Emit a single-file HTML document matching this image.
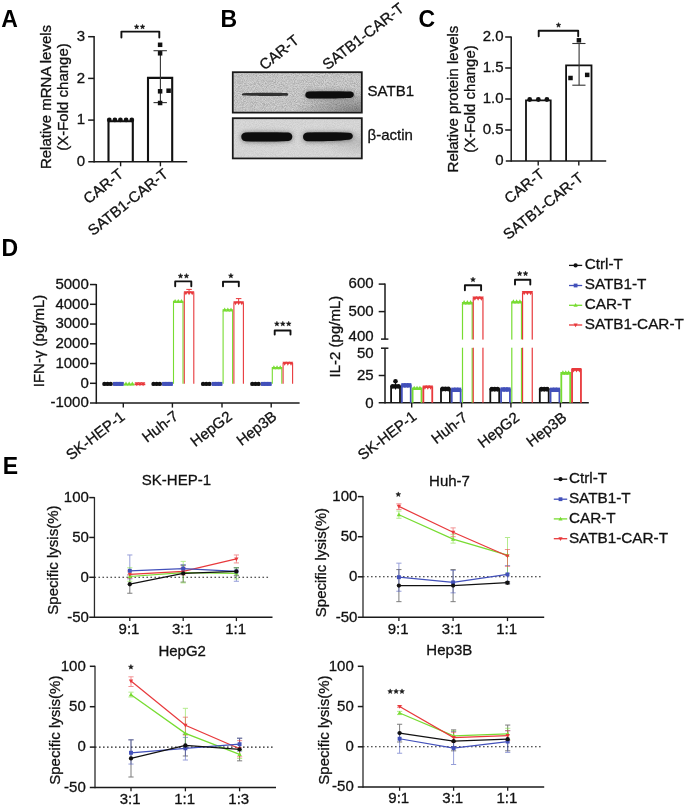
<!DOCTYPE html><html><head><meta charset="utf-8"><title>Figure</title>
<style>html,body{margin:0;padding:0;background:#fff;width:685px;height:805px;overflow:hidden}svg{display:block;font-family:"Liberation Sans",sans-serif;will-change:transform}</style></head><body>
<svg width="685" height="805" viewBox="0 0 685 805">
<defs><linearGradient id="g1" x1="0" y1="0" x2="1" y2="1"><stop offset="0" stop-color="#d4d4d4"/><stop offset="0.45" stop-color="#d8d8d8"/><stop offset="0.8" stop-color="#cfcfcf"/><stop offset="1" stop-color="#a9a9a9"/></linearGradient><linearGradient id="g2" x1="0" y1="0" x2="1" y2="1"><stop offset="0" stop-color="#d9d9d9"/><stop offset="0.6" stop-color="#dcdcdc"/><stop offset="1" stop-color="#d0d0d0"/></linearGradient><filter id="bl1" x="-20%" y="-100%" width="140%" height="300%"><feGaussianBlur stdDeviation="0.9"/></filter><filter id="bl2" x="-20%" y="-100%" width="140%" height="300%"><feGaussianBlur stdDeviation="0.6"/></filter></defs>
<rect x="0" y="0" width="685" height="805" fill="#fff"/>
<text x="1.2" y="26.8" font-size="23" text-anchor="start" font-weight="bold" fill="#000" >A</text>
<text x="220.6" y="26.8" font-size="23" text-anchor="start" font-weight="bold" fill="#000" >B</text>
<text x="418.6" y="26.8" font-size="23" text-anchor="start" font-weight="bold" fill="#000" >C</text>
<text x="1.6" y="256.1" font-size="23" text-anchor="start" font-weight="bold" fill="#000" >D</text>
<text x="2.8" y="473.9" font-size="23" text-anchor="start" font-weight="bold" fill="#000" >E</text>
<line x1="94.1" y1="36" x2="94.1" y2="162.5" stroke="#1a1a1a" stroke-width="1.5" />
<text x="85" y="166.17" font-size="15.0" text-anchor="end" fill="#111" stroke="#111" stroke-width="0.3" >0</text>
<line x1="88.1" y1="120.1" x2="94.1" y2="120.1" stroke="#1a1a1a" stroke-width="1.5" />
<text x="85" y="124.47" font-size="15.0" text-anchor="end" fill="#111" stroke="#111" stroke-width="0.3" >1</text>
<line x1="88.1" y1="78.4" x2="94.1" y2="78.4" stroke="#1a1a1a" stroke-width="1.5" />
<text x="85" y="82.77" font-size="15.0" text-anchor="end" fill="#111" stroke="#111" stroke-width="0.3" >2</text>
<line x1="88.1" y1="36.7" x2="94.1" y2="36.7" stroke="#1a1a1a" stroke-width="1.5" />
<text x="85" y="41.07" font-size="15.0" text-anchor="end" fill="#111" stroke="#111" stroke-width="0.3" >3</text>
<line x1="88.3" y1="161.8" x2="187.2" y2="161.8" stroke="#1a1a1a" stroke-width="1.5" />
<line x1="120.6" y1="161.8" x2="120.6" y2="166.3" stroke="#1a1a1a" stroke-width="1.4" />
<line x1="160.4" y1="161.8" x2="160.4" y2="166.3" stroke="#1a1a1a" stroke-width="1.4" />
<text x="50.6" y="97" font-size="15.0" text-anchor="middle" fill="#111" stroke="#111" stroke-width="0.3" transform="rotate(-90 50.6 97)" >Relative mRNA levels</text>
<text x="67.6" y="97" font-size="15.0" text-anchor="middle" fill="#111" stroke="#111" stroke-width="0.3" transform="rotate(-90 67.6 97)" >(X-Fold change)</text>
<polyline points="108.5,161.8 108.5,121.3 132.8,121.3 132.8,161.8" stroke="#111" stroke-width="2.1" fill="none" />
<polyline points="148,161.8 148,77.9 172.2,77.9 172.2,161.8" stroke="#111" stroke-width="2.1" fill="none" />
<line x1="160.4" y1="50.7" x2="160.4" y2="102.6" stroke="#333" stroke-width="1.1" />
<line x1="153.5" y1="50.7" x2="166.9" y2="50.7" stroke="#333" stroke-width="1.1" />
<line x1="153.5" y1="102.6" x2="166.9" y2="102.6" stroke="#333" stroke-width="1.1" />
<circle cx="109.3" cy="119.9" r="2.4" fill="#111"/>
<circle cx="114.9" cy="119.9" r="2.4" fill="#111"/>
<circle cx="120.4" cy="119.9" r="2.4" fill="#111"/>
<circle cx="126.1" cy="119.9" r="2.4" fill="#111"/>
<circle cx="131.8" cy="119.9" r="2.4" fill="#111"/>
<rect x="157.85" y="42.55" width="4.5" height="4.5" fill="#111"/>
<rect x="157.85" y="51.05" width="4.5" height="4.5" fill="#111"/>
<rect x="157.85" y="89.05" width="4.5" height="4.5" fill="#111"/>
<rect x="166.35" y="88.45" width="4.5" height="4.5" fill="#111"/>
<rect x="157.85" y="100.75" width="4.5" height="4.5" fill="#111"/>
<polyline points="121.4,37.6 121.4,31.6 159.3,31.6 159.3,37.6" stroke="#111" stroke-width="1.9" fill="none" stroke-linejoin="round" stroke-linecap="round"/>
<polygon points="136.65,24.3 137.3,25.96 139.08,26.06 137.7,27.19 138.15,28.91 136.65,27.95 135.15,28.91 135.6,27.19 134.22,26.06 136,25.96" fill="#1a1a1a" stroke="#1a1a1a" stroke-width="0.5" stroke-linejoin="round"/>
<polygon points="142.55,24.3 143.2,25.96 144.98,26.06 143.6,27.19 144.05,28.91 142.55,27.95 141.05,28.91 141.5,27.19 140.12,26.06 141.9,25.96" fill="#1a1a1a" stroke="#1a1a1a" stroke-width="0.5" stroke-linejoin="round"/>
<text x="124.3" y="175.9" font-size="15" text-anchor="end" fill="#111" stroke="#111" stroke-width="0.3" transform="rotate(-38.6 124.3 175.9)" >CAR-T</text>
<text x="169.1" y="175.7" font-size="15" text-anchor="end" fill="#111" stroke="#111" stroke-width="0.3" transform="rotate(-38.6 169.1 175.7)" >SATB1-CAR-T</text>
<line x1="511.2" y1="36.4" x2="511.2" y2="161.7" stroke="#1a1a1a" stroke-width="1.5" />
<text x="503.6" y="165.37" font-size="15.0" text-anchor="end" fill="#111" stroke="#111" stroke-width="0.3" >0</text>
<line x1="505.2" y1="130" x2="511.2" y2="130" stroke="#1a1a1a" stroke-width="1.5" />
<text x="503.6" y="134.37" font-size="15.0" text-anchor="end" fill="#111" stroke="#111" stroke-width="0.3" >0.5</text>
<line x1="505.2" y1="99" x2="511.2" y2="99" stroke="#1a1a1a" stroke-width="1.5" />
<text x="503.6" y="103.37" font-size="15.0" text-anchor="end" fill="#111" stroke="#111" stroke-width="0.3" >1.0</text>
<line x1="505.2" y1="68" x2="511.2" y2="68" stroke="#1a1a1a" stroke-width="1.5" />
<text x="503.6" y="72.37" font-size="15.0" text-anchor="end" fill="#111" stroke="#111" stroke-width="0.3" >1.5</text>
<line x1="505.2" y1="37" x2="511.2" y2="37" stroke="#1a1a1a" stroke-width="1.5" />
<text x="503.6" y="41.37" font-size="15.0" text-anchor="end" fill="#111" stroke="#111" stroke-width="0.3" >2.0</text>
<line x1="505.8" y1="161" x2="606.2" y2="161" stroke="#1a1a1a" stroke-width="1.5" />
<line x1="538.2" y1="161" x2="538.2" y2="165.5" stroke="#1a1a1a" stroke-width="1.4" />
<line x1="578.8" y1="161" x2="578.8" y2="165.5" stroke="#1a1a1a" stroke-width="1.4" />
<text x="457.6" y="99" font-size="15.0" text-anchor="middle" fill="#111" stroke="#111" stroke-width="0.3" transform="rotate(-90 457.6 99)" >Relative protein levels</text>
<text x="474.6" y="99" font-size="15.0" text-anchor="middle" fill="#111" stroke="#111" stroke-width="0.3" transform="rotate(-90 474.6 99)" >(X-Fold change)</text>
<polyline points="526,161 526,100.4 550.7,100.4 550.7,161" stroke="#111" stroke-width="1.8" fill="none" />
<polyline points="566.1,161 566.1,65.4 591.5,65.4 591.5,161" stroke="#111" stroke-width="1.8" fill="none" />
<line x1="579.1" y1="43.5" x2="579.1" y2="85.2" stroke="#333" stroke-width="1.1" />
<line x1="572.3" y1="43.5" x2="585.5" y2="43.5" stroke="#333" stroke-width="1.1" />
<line x1="572.3" y1="85.2" x2="585.5" y2="85.2" stroke="#333" stroke-width="1.1" />
<circle cx="529.7" cy="99.5" r="2.4" fill="#111"/>
<circle cx="538.3" cy="99.5" r="2.4" fill="#111"/>
<circle cx="546.9" cy="99.5" r="2.4" fill="#111"/>
<rect x="576.65" y="38.05" width="4.5" height="4.5" fill="#111"/>
<rect x="568.25" y="75.75" width="4.5" height="4.5" fill="#111"/>
<rect x="584.95" y="72.65" width="4.5" height="4.5" fill="#111"/>
<polyline points="538.7,36.2 538.7,30.7 578.2,30.7 578.2,36.2" stroke="#111" stroke-width="1.9" fill="none" stroke-linejoin="round" stroke-linecap="round"/>
<polygon points="558.5,22.6 559.15,24.26 560.93,24.36 559.55,25.49 560,27.21 558.5,26.25 557,27.21 557.45,25.49 556.07,24.36 557.85,24.26" fill="#1a1a1a" stroke="#1a1a1a" stroke-width="0.5" stroke-linejoin="round"/>
<text x="545.3" y="175.7" font-size="15" text-anchor="end" fill="#111" stroke="#111" stroke-width="0.3" transform="rotate(-38.6 545.3 175.7)" >CAR-T</text>
<text x="584.3" y="179.6" font-size="15" text-anchor="end" fill="#111" stroke="#111" stroke-width="0.3" transform="rotate(-38.6 584.3 179.6)" >SATB1-CAR-T</text>
<defs><radialGradient id="rg1" cx="1" cy="1" r="0.55" fx="1" fy="1"><stop offset="0" stop-color="#000" stop-opacity="0.38"/><stop offset="1" stop-color="#000" stop-opacity="0"/></radialGradient><radialGradient id="rg2" cx="1" cy="0.6" r="0.35"><stop offset="0" stop-color="#000" stop-opacity="0.12"/><stop offset="1" stop-color="#000" stop-opacity="0"/></radialGradient><filter id="nz" x="0" y="0" width="100%" height="100%"><feTurbulence type="fractalNoise" baseFrequency="1.1" numOctaves="2" seed="7"/><feColorMatrix type="matrix" values="0 0 0 0 0  0 0 0 0 0  0 0 0 0 0  0.42 0 0 0 -0.13"/></filter><filter id="halo" x="-30%" y="-200%" width="160%" height="500%"><feGaussianBlur stdDeviation="2.6"/></filter><filter id="bb" x="-20%" y="-100%" width="140%" height="300%"><feGaussianBlur stdDeviation="0.65"/></filter><filter id="bb2" x="-20%" y="-200%" width="140%" height="500%"><feGaussianBlur stdDeviation="0.7 0.55"/></filter><clipPath id="cb1"><rect x="233.7" y="73.1" width="127.2" height="38.6"/></clipPath><clipPath id="cb2"><rect x="233.7" y="119.1" width="127.2" height="38.4"/></clipPath></defs>
<g clip-path="url(#cb1)">
<rect x="232.8" y="72.2" width="129" height="40.4" fill="#d3d3d3"/>
<rect x="232.8" y="72.2" width="129" height="40.4" fill="url(#rg1)"/>
<rect x="232.8" y="72.2" width="129" height="40.4" fill="#000" filter="url(#nz)"/>
<path d="M243.2,93.3 C250,93.0 256,92.9 264,92.8 C273,92.7 281,92.8 286.5,93.0 C288.7,93.3 288.7,95.5 286.5,95.8 C281,96.0 273,96.1 264,96.0 C256,95.9 250,95.8 243.2,95.6 C241.6,95.4 241.6,93.5 243.2,93.3 Z" fill="#202020" opacity="0.9" filter="url(#bb2)"/>
<path d="M309,91.5 C325,91.2 340,91.3 350.4,91.6 C355.0,91.9 355.0,97.6 350.4,97.9 C340,98.3 325,98.5 309,98.4 C304.0,98.3 304.0,91.6 309,91.5 Z" fill="#555" opacity="0.55" filter="url(#halo)"/>
<path d="M309,91.5 C325,91.2 340,91.3 350.4,91.6 C355.0,91.9 355.0,97.6 350.4,97.9 C340,98.3 325,98.5 309,98.4 C304.0,98.3 304.0,91.6 309,91.5 Z" fill="#0b0b0b" filter="url(#bb)"/>
</g>
<rect x="232.8" y="72.2" width="129" height="40.4" fill="none" stroke="#1a1a1a" stroke-width="1.8"/>
<g clip-path="url(#cb2)">
<rect x="232.8" y="118.2" width="129" height="40.2" fill="#dadada"/>
<rect x="232.8" y="118.2" width="129" height="40.2" fill="url(#rg2)"/>
<rect x="232.8" y="118.2" width="129" height="40.2" fill="#000" filter="url(#nz)" opacity="0.35"/>
<path d="M245.5,132.4 C258,132.1 276,132.1 288.4,132.5 C293.6,132.9 293.6,140.5 288.4,140.9 C276,141.7 258,141.8 245.5,141.3 C239.8,141.0 239.8,132.6 245.5,132.4 Z" fill="#444" opacity="0.75" filter="url(#halo)" transform="translate(0,0.3)"/>
<path d="M307.2,132.5 C322,132.2 338,132.4 348.8,132.7 C354.2,133.0 354.2,139.0 348.8,139.8 C338,141.0 322,141.5 307.2,141.3 C301.6,141.1 301.6,132.7 307.2,132.5 Z" fill="#444" opacity="0.75" filter="url(#halo)" transform="translate(0,0.3)"/>
<path d="M245.5,132.4 C258,132.1 276,132.1 288.4,132.5 C293.6,132.9 293.6,140.5 288.4,140.9 C276,141.7 258,141.8 245.5,141.3 C239.8,141.0 239.8,132.6 245.5,132.4 Z" fill="#0b0b0b" filter="url(#bb)"/>
<path d="M307.2,132.5 C322,132.2 338,132.4 348.8,132.7 C354.2,133.0 354.2,139.0 348.8,139.8 C338,141.0 322,141.5 307.2,141.3 C301.6,141.1 301.6,132.7 307.2,132.5 Z" fill="#0b0b0b" filter="url(#bb)"/>
</g>
<rect x="232.8" y="118.2" width="129" height="40.2" fill="none" stroke="#1a1a1a" stroke-width="1.8"/>
<text x="367.6" y="95.8" font-size="15" text-anchor="start" fill="#111" stroke="#111" stroke-width="0.3" >SATB1</text>
<text x="367.6" y="139.6" font-size="15" text-anchor="start" fill="#111" stroke="#111" stroke-width="0.3" >&#946;-actin</text>
<text x="300.1" y="42" font-size="15" text-anchor="end" fill="#111" stroke="#111" stroke-width="0.3" transform="rotate(-39 300.1 42)" >CAR-T</text>
<text x="405.2" y="10.2" font-size="15.2" text-anchor="end" fill="#111" stroke="#111" stroke-width="0.3" transform="rotate(-37.8 405.2 10.2)" >SATB1-CAR-T</text>
<line x1="96.3" y1="284" x2="96.3" y2="403.7" stroke="#1a1a1a" stroke-width="1.5" />
<line x1="90" y1="284.55" x2="96.3" y2="284.55" stroke="#1a1a1a" stroke-width="1.5" />
<text x="88.8" y="288.92" font-size="15.0" text-anchor="end" fill="#111" stroke="#111" stroke-width="0.3" >5000</text>
<line x1="90" y1="304.3" x2="96.3" y2="304.3" stroke="#1a1a1a" stroke-width="1.5" />
<text x="88.8" y="308.67" font-size="15.0" text-anchor="end" fill="#111" stroke="#111" stroke-width="0.3" >4000</text>
<line x1="90" y1="324.05" x2="96.3" y2="324.05" stroke="#1a1a1a" stroke-width="1.5" />
<text x="88.8" y="328.42" font-size="15.0" text-anchor="end" fill="#111" stroke="#111" stroke-width="0.3" >3000</text>
<line x1="90" y1="343.8" x2="96.3" y2="343.8" stroke="#1a1a1a" stroke-width="1.5" />
<text x="88.8" y="348.17" font-size="15.0" text-anchor="end" fill="#111" stroke="#111" stroke-width="0.3" >2000</text>
<line x1="90" y1="363.55" x2="96.3" y2="363.55" stroke="#1a1a1a" stroke-width="1.5" />
<text x="88.8" y="367.92" font-size="15.0" text-anchor="end" fill="#111" stroke="#111" stroke-width="0.3" >1000</text>
<line x1="90" y1="383.3" x2="96.3" y2="383.3" stroke="#1a1a1a" stroke-width="1.5" />
<text x="88.8" y="387.67" font-size="15.0" text-anchor="end" fill="#111" stroke="#111" stroke-width="0.3" >0</text>
<text x="88.8" y="407.42" font-size="15.0" text-anchor="end" fill="#111" stroke="#111" stroke-width="0.3" >-1000</text>
<line x1="90" y1="403" x2="299.6" y2="403" stroke="#1a1a1a" stroke-width="1.5" />
<line x1="123.3" y1="403" x2="123.3" y2="407.6" stroke="#1a1a1a" stroke-width="1.4" />
<line x1="172.4" y1="403" x2="172.4" y2="407.6" stroke="#1a1a1a" stroke-width="1.4" />
<line x1="222" y1="403" x2="222" y2="407.6" stroke="#1a1a1a" stroke-width="1.4" />
<line x1="271.2" y1="403" x2="271.2" y2="407.6" stroke="#1a1a1a" stroke-width="1.4" />
<text x="44" y="341" font-size="15.0" text-anchor="middle" fill="#111" stroke="#111" stroke-width="0.3" transform="rotate(-90 44 341)" >IFN-&#947; (pg/mL)</text>
<circle cx="104.4" cy="383.9" r="2.2" fill="#111"/>
<circle cx="107.55" cy="383.9" r="2.2" fill="#111"/>
<circle cx="110.7" cy="383.9" r="2.2" fill="#111"/>
<rect x="113" y="382.1" width="10.7" height="3.4" fill="#4250BA"/>
<rect x="113.2" y="381.9" width="4" height="4" fill="#4250BA"/>
<rect x="116.35" y="381.9" width="4" height="4" fill="#4250BA"/>
<rect x="119.5" y="381.9" width="4" height="4" fill="#4250BA"/>
<rect x="123.8" y="383.6" width="10.7" height="1.6" fill="#78DC32"/>
<polygon points="126,381.52 123.8,385.48 128.2,385.48" fill="#78DC32"/>
<polygon points="129.15,381.52 126.95,385.48 131.35,385.48" fill="#78DC32"/>
<polygon points="132.3,381.52 130.1,385.48 134.5,385.48" fill="#78DC32"/>
<rect x="134.6" y="383.6" width="10.7" height="1.6" fill="#E8393C"/>
<polygon points="136.8,386.28 134.6,382.32 139,382.32" fill="#E8393C"/>
<polygon points="139.95,386.28 137.75,382.32 142.15,382.32" fill="#E8393C"/>
<polygon points="143.1,386.28 140.9,382.32 145.3,382.32" fill="#E8393C"/>
<circle cx="153.5" cy="383.9" r="2.2" fill="#111"/>
<circle cx="156.65" cy="383.9" r="2.2" fill="#111"/>
<circle cx="159.8" cy="383.9" r="2.2" fill="#111"/>
<rect x="162.1" y="382.1" width="10.7" height="3.4" fill="#4250BA"/>
<rect x="162.3" y="381.9" width="4" height="4" fill="#4250BA"/>
<rect x="165.45" y="381.9" width="4" height="4" fill="#4250BA"/>
<rect x="168.6" y="381.9" width="4" height="4" fill="#4250BA"/>
<polyline points="173.5,383.8 173.5,301.31 183,301.31 183,383.8" stroke="#78DC32" stroke-width="1.1" fill="none" />
<polygon points="175.1,298.93 172.9,302.89 177.3,302.89" fill="#78DC32"/>
<polygon points="178.25,298.93 176.05,302.89 180.45,302.89" fill="#78DC32"/>
<polygon points="181.4,298.93 179.2,302.89 183.6,302.89" fill="#78DC32"/>
<polyline points="184.3,383.8 184.3,292.81 193.8,292.81 193.8,383.8" stroke="#E8393C" stroke-width="1.1" fill="none" />
<polygon points="185.9,295.19 183.7,291.23 188.1,291.23" fill="#E8393C"/>
<polygon points="189.05,295.19 186.85,291.23 191.25,291.23" fill="#E8393C"/>
<polygon points="192.2,295.19 190,291.23 194.4,291.23" fill="#E8393C"/>
<circle cx="203.1" cy="383.9" r="2.2" fill="#111"/>
<circle cx="206.25" cy="383.9" r="2.2" fill="#111"/>
<circle cx="209.4" cy="383.9" r="2.2" fill="#111"/>
<rect x="211.7" y="382.1" width="10.7" height="3.4" fill="#4250BA"/>
<rect x="211.9" y="381.9" width="4" height="4" fill="#4250BA"/>
<rect x="215.05" y="381.9" width="4" height="4" fill="#4250BA"/>
<rect x="218.2" y="381.9" width="4" height="4" fill="#4250BA"/>
<polyline points="223.1,383.8 223.1,309.8 232.6,309.8 232.6,383.8" stroke="#78DC32" stroke-width="1.1" fill="none" />
<polygon points="224.7,307.42 222.5,311.38 226.9,311.38" fill="#78DC32"/>
<polygon points="227.85,307.42 225.65,311.38 230.05,311.38" fill="#78DC32"/>
<polygon points="231,307.42 228.8,311.38 233.2,311.38" fill="#78DC32"/>
<polyline points="233.9,383.8 233.9,302.81 243.4,302.81 243.4,383.8" stroke="#E8393C" stroke-width="1.1" fill="none" />
<polygon points="235.5,305.18 233.3,301.22 237.7,301.22" fill="#E8393C"/>
<polygon points="238.65,305.18 236.45,301.22 240.85,301.22" fill="#E8393C"/>
<polygon points="241.8,305.18 239.6,301.22 244,301.22" fill="#E8393C"/>
<circle cx="252.3" cy="383.9" r="2.2" fill="#111"/>
<circle cx="255.45" cy="383.9" r="2.2" fill="#111"/>
<circle cx="258.6" cy="383.9" r="2.2" fill="#111"/>
<rect x="260.9" y="382.1" width="10.7" height="3.4" fill="#4250BA"/>
<rect x="261.1" y="381.9" width="4" height="4" fill="#4250BA"/>
<rect x="264.25" y="381.9" width="4" height="4" fill="#4250BA"/>
<rect x="267.4" y="381.9" width="4" height="4" fill="#4250BA"/>
<polyline points="272.3,383.8 272.3,367.61 281.8,367.61 281.8,383.8" stroke="#78DC32" stroke-width="1.1" fill="none" />
<polygon points="273.9,365.23 271.7,369.19 276.1,369.19" fill="#78DC32"/>
<polygon points="277.05,365.23 274.85,369.19 279.25,369.19" fill="#78DC32"/>
<polygon points="280.2,365.23 278,369.19 282.4,369.19" fill="#78DC32"/>
<polyline points="283.1,383.8 283.1,363.26 292.6,363.26 292.6,383.8" stroke="#E8393C" stroke-width="1.1" fill="none" />
<polygon points="284.7,365.64 282.5,361.68 286.9,361.68" fill="#E8393C"/>
<polygon points="287.85,365.64 285.65,361.68 290.05,361.68" fill="#E8393C"/>
<polygon points="291,365.64 288.8,361.68 293.2,361.68" fill="#E8393C"/>
<line x1="189.05" y1="289.4" x2="189.05" y2="292.9" stroke="#E8393C" stroke-width="1" />
<line x1="186.3" y1="289.4" x2="191.8" y2="289.4" stroke="#E8393C" stroke-width="1" />
<line x1="238.65" y1="298.6" x2="238.65" y2="302.1" stroke="#E8393C" stroke-width="1" />
<line x1="235.9" y1="298.6" x2="241.4" y2="298.6" stroke="#E8393C" stroke-width="1" />
<polyline points="175.2,286.3 175.2,281.4 191.3,281.4 191.3,286.3" stroke="#111" stroke-width="1.9" fill="none" stroke-linejoin="round" stroke-linecap="round"/>
<polygon points="180.55,273.5 181.2,275.16 182.98,275.26 181.6,276.39 182.05,278.11 180.55,277.15 179.05,278.11 179.5,276.39 178.12,275.26 179.9,275.16" fill="#1a1a1a" stroke="#1a1a1a" stroke-width="0.5" stroke-linejoin="round"/>
<polygon points="186.45,273.5 187.1,275.16 188.88,275.26 187.5,276.39 187.95,278.11 186.45,277.15 184.95,278.11 185.4,276.39 184.02,275.26 185.8,275.16" fill="#1a1a1a" stroke="#1a1a1a" stroke-width="0.5" stroke-linejoin="round"/>
<polyline points="223,286.3 223,281.8 238.8,281.8 238.8,286.3" stroke="#111" stroke-width="1.9" fill="none" stroke-linejoin="round" stroke-linecap="round"/>
<polygon points="230.9,273.3 231.55,274.96 233.33,275.06 231.95,276.19 232.4,277.91 230.9,276.95 229.4,277.91 229.85,276.19 228.47,275.06 230.25,274.96" fill="#1a1a1a" stroke="#1a1a1a" stroke-width="0.5" stroke-linejoin="round"/>
<polyline points="274.7,334.6 274.7,330.5 290.5,330.5 290.5,334.6" stroke="#111" stroke-width="1.9" fill="none" stroke-linejoin="round" stroke-linecap="round"/>
<polygon points="276.9,321.3 277.55,322.96 279.33,323.06 277.95,324.19 278.4,325.91 276.9,324.95 275.4,325.91 275.85,324.19 274.47,323.06 276.25,322.96" fill="#1a1a1a" stroke="#1a1a1a" stroke-width="0.5" stroke-linejoin="round"/>
<polygon points="282.8,321.3 283.45,322.96 285.23,323.06 283.85,324.19 284.3,325.91 282.8,324.95 281.3,325.91 281.75,324.19 280.37,323.06 282.15,322.96" fill="#1a1a1a" stroke="#1a1a1a" stroke-width="0.5" stroke-linejoin="round"/>
<polygon points="288.7,321.3 289.35,322.96 291.13,323.06 289.75,324.19 290.2,325.91 288.7,324.95 287.2,325.91 287.65,324.19 286.27,323.06 288.05,322.96" fill="#1a1a1a" stroke="#1a1a1a" stroke-width="0.5" stroke-linejoin="round"/>
<text x="125.8" y="418.7" font-size="15.0" text-anchor="end" fill="#111" stroke="#111" stroke-width="0.3" transform="rotate(-37.5 125.8 418.7)" >SK-HEP-1</text>
<text x="179.4" y="418.1" font-size="15.0" text-anchor="end" fill="#111" stroke="#111" stroke-width="0.3" transform="rotate(-37.5 179.4 418.1)" >Huh-7</text>
<text x="233" y="418.3" font-size="15.0" text-anchor="end" fill="#111" stroke="#111" stroke-width="0.3" transform="rotate(-37.5 233 418.3)" >HepG2</text>
<text x="277.8" y="418.3" font-size="15.0" text-anchor="end" fill="#111" stroke="#111" stroke-width="0.3" transform="rotate(-37.5 277.8 418.3)" >Hep3B</text>
<line x1="385" y1="283.5" x2="385" y2="339.1" stroke="#1a1a1a" stroke-width="1.5" />
<line x1="385" y1="348.2" x2="385" y2="403.5" stroke="#1a1a1a" stroke-width="1.5" />
<line x1="381" y1="339.1" x2="388.4" y2="339.1" stroke="#1a1a1a" stroke-width="1.5" />
<line x1="381" y1="348.2" x2="388.4" y2="348.2" stroke="#1a1a1a" stroke-width="1.5" />
<line x1="378.7" y1="284.1" x2="385" y2="284.1" stroke="#1a1a1a" stroke-width="1.5" />
<line x1="378.7" y1="311.6" x2="385" y2="311.6" stroke="#1a1a1a" stroke-width="1.5" />
<line x1="378.7" y1="375.5" x2="385" y2="375.5" stroke="#1a1a1a" stroke-width="1.5" />
<text x="373.6" y="288.17" font-size="15.0" text-anchor="end" fill="#111" stroke="#111" stroke-width="0.3" >600</text>
<text x="373.6" y="316.37" font-size="15.0" text-anchor="end" fill="#111" stroke="#111" stroke-width="0.3" >500</text>
<text x="373.6" y="340.97" font-size="15.0" text-anchor="end" fill="#111" stroke="#111" stroke-width="0.3" >400</text>
<text x="373.6" y="357.77" font-size="15.0" text-anchor="end" fill="#111" stroke="#111" stroke-width="0.3" >50</text>
<text x="373.6" y="379.77" font-size="15.0" text-anchor="end" fill="#111" stroke="#111" stroke-width="0.3" >25</text>
<text x="373.6" y="407.57" font-size="15.0" text-anchor="end" fill="#111" stroke="#111" stroke-width="0.3" >0</text>
<line x1="378.7" y1="402.8" x2="588.8" y2="402.8" stroke="#1a1a1a" stroke-width="1.5" />
<line x1="411.7" y1="402.8" x2="411.7" y2="407.4" stroke="#1a1a1a" stroke-width="1.4" />
<line x1="461.6" y1="402.8" x2="461.6" y2="407.4" stroke="#1a1a1a" stroke-width="1.4" />
<line x1="510.9" y1="402.8" x2="510.9" y2="407.4" stroke="#1a1a1a" stroke-width="1.4" />
<line x1="560.4" y1="402.8" x2="560.4" y2="407.4" stroke="#1a1a1a" stroke-width="1.4" />
<text x="340.2" y="336.6" font-size="15.0" text-anchor="middle" fill="#111" stroke="#111" stroke-width="0.3" transform="rotate(-90 340.2 336.6)" >IL-2 (pg/mL)</text>
<polyline points="391.1,402.8 391.1,386.42 400,386.42 400,402.8" stroke="#111" stroke-width="1.8" fill="none" />
<circle cx="392.7" cy="386.42" r="2.42" fill="#111"/>
<circle cx="395.55" cy="386.42" r="2.42" fill="#111"/>
<circle cx="398.4" cy="386.42" r="2.42" fill="#111"/>
<polyline points="401.85,402.8 401.85,385.33 410.75,385.33 410.75,402.8" stroke="#4250BA" stroke-width="1.8" fill="none" />
<rect x="401.25" y="383.13" width="4.4" height="4.4" fill="#4250BA"/>
<rect x="404.1" y="383.13" width="4.4" height="4.4" fill="#4250BA"/>
<rect x="406.95" y="383.13" width="4.4" height="4.4" fill="#4250BA"/>
<polyline points="412.6,402.8 412.6,388.28 421.5,388.28 421.5,402.8" stroke="#78DC32" stroke-width="1.8" fill="none" />
<polygon points="414.2,385.66 411.78,390.02 416.62,390.02" fill="#78DC32"/>
<polygon points="417.05,385.66 414.63,390.02 419.47,390.02" fill="#78DC32"/>
<polygon points="419.9,385.66 417.48,390.02 422.32,390.02" fill="#78DC32"/>
<polyline points="423.35,402.8 423.35,387.18 432.25,387.18 432.25,402.8" stroke="#E8393C" stroke-width="1.8" fill="none" />
<polygon points="424.95,389.8 422.53,385.44 427.37,385.44" fill="#E8393C"/>
<polygon points="427.8,389.8 425.38,385.44 430.22,385.44" fill="#E8393C"/>
<polygon points="430.65,389.8 428.23,385.44 433.07,385.44" fill="#E8393C"/>
<polyline points="441,402.8 441,389.04 449.9,389.04 449.9,402.8" stroke="#111" stroke-width="1.8" fill="none" />
<circle cx="442.6" cy="389.04" r="2.42" fill="#111"/>
<circle cx="445.45" cy="389.04" r="2.42" fill="#111"/>
<circle cx="448.3" cy="389.04" r="2.42" fill="#111"/>
<polyline points="451.75,402.8 451.75,389.81 460.65,389.81 460.65,402.8" stroke="#4250BA" stroke-width="1.8" fill="none" />
<rect x="451.15" y="387.61" width="4.4" height="4.4" fill="#4250BA"/>
<rect x="454" y="387.61" width="4.4" height="4.4" fill="#4250BA"/>
<rect x="456.85" y="387.61" width="4.4" height="4.4" fill="#4250BA"/>
<polyline points="462.5,402.8 462.5,302.66 472.2,302.66 472.2,402.8" stroke="#78DC32" stroke-width="1.2" fill="none" />
<rect x="460.5" y="339.6" width="13.7" height="8.1" fill="#fff"/>
<polygon points="464.1,300.05 461.68,304.4 466.52,304.4" fill="#78DC32"/>
<polygon points="467.35,300.05 464.93,304.4 469.77,304.4" fill="#78DC32"/>
<polygon points="470.6,300.05 468.18,304.4 473.02,304.4" fill="#78DC32"/>
<polyline points="473.25,402.8 473.25,298.12 482.95,298.12 482.95,402.8" stroke="#E8393C" stroke-width="1.2" fill="none" />
<rect x="471.25" y="339.6" width="13.7" height="8.1" fill="#fff"/>
<polygon points="474.85,300.74 472.43,296.38 477.27,296.38" fill="#E8393C"/>
<polygon points="478.1,300.74 475.68,296.38 480.52,296.38" fill="#E8393C"/>
<polygon points="481.35,300.74 478.93,296.38 483.77,296.38" fill="#E8393C"/>
<polyline points="490.3,402.8 490.3,389.26 499.2,389.26 499.2,402.8" stroke="#111" stroke-width="1.8" fill="none" />
<circle cx="491.9" cy="389.26" r="2.42" fill="#111"/>
<circle cx="494.75" cy="389.26" r="2.42" fill="#111"/>
<circle cx="497.6" cy="389.26" r="2.42" fill="#111"/>
<polyline points="501.05,402.8 501.05,389.48 509.95,389.48 509.95,402.8" stroke="#4250BA" stroke-width="1.8" fill="none" />
<rect x="500.45" y="387.28" width="4.4" height="4.4" fill="#4250BA"/>
<rect x="503.3" y="387.28" width="4.4" height="4.4" fill="#4250BA"/>
<rect x="506.15" y="387.28" width="4.4" height="4.4" fill="#4250BA"/>
<polyline points="511.8,402.8 511.8,301.76 521.5,301.76 521.5,402.8" stroke="#78DC32" stroke-width="1.2" fill="none" />
<rect x="509.8" y="339.6" width="13.7" height="8.1" fill="#fff"/>
<polygon points="513.4,299.14 510.98,303.5 515.82,303.5" fill="#78DC32"/>
<polygon points="516.65,299.14 514.23,303.5 519.07,303.5" fill="#78DC32"/>
<polygon points="519.9,299.14 517.48,303.5 522.32,303.5" fill="#78DC32"/>
<polyline points="522.55,402.8 522.55,292.74 532.25,292.74 532.25,402.8" stroke="#E8393C" stroke-width="1.2" fill="none" />
<rect x="520.55" y="339.6" width="13.7" height="8.1" fill="#fff"/>
<polygon points="524.15,295.35 521.73,290.99 526.57,290.99" fill="#E8393C"/>
<polygon points="527.4,295.35 524.98,290.99 529.82,290.99" fill="#E8393C"/>
<polygon points="530.65,295.35 528.23,290.99 533.07,290.99" fill="#E8393C"/>
<polyline points="539.8,402.8 539.8,389.26 548.7,389.26 548.7,402.8" stroke="#111" stroke-width="1.8" fill="none" />
<circle cx="541.4" cy="389.26" r="2.42" fill="#111"/>
<circle cx="544.25" cy="389.26" r="2.42" fill="#111"/>
<circle cx="547.1" cy="389.26" r="2.42" fill="#111"/>
<polyline points="550.55,402.8 550.55,389.81 559.45,389.81 559.45,402.8" stroke="#4250BA" stroke-width="1.8" fill="none" />
<rect x="549.95" y="387.61" width="4.4" height="4.4" fill="#4250BA"/>
<rect x="552.8" y="387.61" width="4.4" height="4.4" fill="#4250BA"/>
<rect x="555.65" y="387.61" width="4.4" height="4.4" fill="#4250BA"/>
<polyline points="561.3,402.8 561.3,372.99 570.2,372.99 570.2,402.8" stroke="#78DC32" stroke-width="1.8" fill="none" />
<polygon points="562.9,370.37 560.48,374.73 565.32,374.73" fill="#78DC32"/>
<polygon points="565.75,370.37 563.33,374.73 568.17,374.73" fill="#78DC32"/>
<polygon points="568.6,370.37 566.18,374.73 571.02,374.73" fill="#78DC32"/>
<polyline points="572.05,402.8 572.05,369.82 580.95,369.82 580.95,402.8" stroke="#E8393C" stroke-width="1.8" fill="none" />
<polygon points="573.65,372.44 571.23,368.08 576.07,368.08" fill="#E8393C"/>
<polygon points="576.5,372.44 574.08,368.08 578.92,368.08" fill="#E8393C"/>
<polygon points="579.35,372.44 576.93,368.08 581.77,368.08" fill="#E8393C"/>
<line x1="395.5" y1="381.5" x2="395.5" y2="389.5" stroke="#111" stroke-width="1" />
<line x1="393" y1="386.2" x2="398" y2="386.2" stroke="#111" stroke-width="1" />
<circle cx="395.5" cy="381.2" r="2.3" fill="#111"/>
<polyline points="464.9,290.2 464.9,285.2 481.1,285.2 481.1,290.2" stroke="#111" stroke-width="1.9" fill="none" stroke-linejoin="round" stroke-linecap="round"/>
<polygon points="473,277.1 473.65,278.76 475.43,278.86 474.05,279.99 474.5,281.71 473,280.75 471.5,281.71 471.95,279.99 470.57,278.86 472.35,278.76" fill="#1a1a1a" stroke="#1a1a1a" stroke-width="0.5" stroke-linejoin="round"/>
<polyline points="515,284.6 515,279.8 530.3,279.8 530.3,284.6" stroke="#111" stroke-width="1.9" fill="none" stroke-linejoin="round" stroke-linecap="round"/>
<polygon points="519.65,271.1 520.3,272.76 522.08,272.86 520.7,273.99 521.15,275.71 519.65,274.75 518.15,275.71 518.6,273.99 517.22,272.86 519,272.76" fill="#1a1a1a" stroke="#1a1a1a" stroke-width="0.5" stroke-linejoin="round"/>
<polygon points="525.55,271.1 526.2,272.76 527.98,272.86 526.6,273.99 527.05,275.71 525.55,274.75 524.05,275.71 524.5,273.99 523.12,272.86 524.9,272.76" fill="#1a1a1a" stroke="#1a1a1a" stroke-width="0.5" stroke-linejoin="round"/>
<text x="417.7" y="418.5" font-size="15.0" text-anchor="end" fill="#111" stroke="#111" stroke-width="0.3" transform="rotate(-37.5 417.7 418.5)" >SK-HEP-1</text>
<text x="468.7" y="419.5" font-size="15.0" text-anchor="end" fill="#111" stroke="#111" stroke-width="0.3" transform="rotate(-37.5 468.7 419.5)" >Huh-7</text>
<text x="520.4" y="419.5" font-size="15.0" text-anchor="end" fill="#111" stroke="#111" stroke-width="0.3" transform="rotate(-37.5 520.4 419.5)" >HepG2</text>
<text x="567.6" y="419.5" font-size="15.0" text-anchor="end" fill="#111" stroke="#111" stroke-width="0.3" transform="rotate(-37.5 567.6 419.5)" >Hep3B</text>
<line x1="569" y1="265.4" x2="582.2" y2="265.4" stroke="#111" stroke-width="1.3" />
<circle cx="575.6" cy="265.4" r="2.09" fill="#111"/>
<text x="584.7" y="269.3" font-size="15.3" text-anchor="start" fill="#111" stroke="#111" stroke-width="0.3" >Ctrl-T</text>
<line x1="569" y1="285.5" x2="582.2" y2="285.5" stroke="#4250BA" stroke-width="1.3" />
<rect x="573.7" y="283.6" width="3.8" height="3.8" fill="#4250BA"/>
<text x="584.7" y="289.4" font-size="15.3" text-anchor="start" fill="#111" stroke="#111" stroke-width="0.3" >SATB1-T</text>
<line x1="569" y1="305.3" x2="582.2" y2="305.3" stroke="#78DC32" stroke-width="1.3" />
<polygon points="575.6,303.04 573.51,306.8 577.69,306.8" fill="#78DC32"/>
<text x="584.7" y="309.2" font-size="15.3" text-anchor="start" fill="#111" stroke="#111" stroke-width="0.3" >CAR-T</text>
<line x1="569" y1="325" x2="582.2" y2="325" stroke="#E8393C" stroke-width="1.3" />
<polygon points="575.6,327.26 573.51,323.5 577.69,323.5" fill="#E8393C"/>
<text x="584.7" y="328.9" font-size="15.3" text-anchor="start" fill="#111" stroke="#111" stroke-width="0.3" >SATB1-CAR-T</text>
<line x1="553.8" y1="479.2" x2="567.2" y2="479.2" stroke="#111" stroke-width="1.3" />
<circle cx="560.5" cy="479.2" r="2.09" fill="#111"/>
<text x="568.9" y="483.1" font-size="15.3" text-anchor="start" fill="#111" stroke="#111" stroke-width="0.3" >Ctrl-T</text>
<line x1="553.8" y1="499.2" x2="567.2" y2="499.2" stroke="#4250BA" stroke-width="1.3" />
<rect x="558.6" y="497.3" width="3.8" height="3.8" fill="#4250BA"/>
<text x="568.9" y="503.1" font-size="15.3" text-anchor="start" fill="#111" stroke="#111" stroke-width="0.3" >SATB1-T</text>
<line x1="553.8" y1="518.9" x2="567.2" y2="518.9" stroke="#78DC32" stroke-width="1.3" />
<polygon points="560.5,516.64 558.41,520.4 562.59,520.4" fill="#78DC32"/>
<text x="568.9" y="522.8" font-size="15.3" text-anchor="start" fill="#111" stroke="#111" stroke-width="0.3" >CAR-T</text>
<line x1="553.8" y1="538.7" x2="567.2" y2="538.7" stroke="#E8393C" stroke-width="1.3" />
<polygon points="560.5,540.96 558.41,537.2 562.59,537.2" fill="#E8393C"/>
<text x="568.9" y="542.6" font-size="15.3" text-anchor="start" fill="#111" stroke="#111" stroke-width="0.3" >SATB1-CAR-T</text>
<line x1="94.45" y1="497.1" x2="94.45" y2="618" stroke="#2a2a2a" stroke-width="1.3" />
<line x1="89.25" y1="497.6" x2="94.45" y2="497.6" stroke="#1a1a1a" stroke-width="1.5" />
<line x1="89.25" y1="537.45" x2="94.45" y2="537.45" stroke="#1a1a1a" stroke-width="1.5" />
<line x1="89.25" y1="577.3" x2="94.45" y2="577.3" stroke="#1a1a1a" stroke-width="1.5" />
<text x="88.85" y="501.97" font-size="15.0" text-anchor="end" fill="#111" stroke="#111" stroke-width="0.3" >100</text>
<text x="88.85" y="541.82" font-size="15.0" text-anchor="end" fill="#111" stroke="#111" stroke-width="0.3" >50</text>
<text x="88.85" y="581.67" font-size="15.0" text-anchor="end" fill="#111" stroke="#111" stroke-width="0.3" >0</text>
<text x="88.85" y="621.67" font-size="15.0" text-anchor="end" fill="#111" stroke="#111" stroke-width="0.3" >-50</text>
<line x1="89.25" y1="617.3" x2="272.5" y2="617.3" stroke="#1a1a1a" stroke-width="1.6" />
<line x1="94.45" y1="577.3" x2="269.5" y2="577.3" stroke="#222" stroke-width="1.1" stroke-dasharray="1.6 2.4"/>
<line x1="129.8" y1="617.3" x2="129.8" y2="621.1" stroke="#1a1a1a" stroke-width="1.3" />
<text x="129" y="633.7" font-size="15.0" text-anchor="middle" fill="#111" stroke="#111" stroke-width="0.3" >9:1</text>
<line x1="183.2" y1="617.3" x2="183.2" y2="621.1" stroke="#1a1a1a" stroke-width="1.3" />
<text x="182.4" y="633.7" font-size="15.0" text-anchor="middle" fill="#111" stroke="#111" stroke-width="0.3" >3:1</text>
<line x1="236.4" y1="617.3" x2="236.4" y2="621.1" stroke="#1a1a1a" stroke-width="1.3" />
<text x="235.6" y="633.7" font-size="15.0" text-anchor="middle" fill="#111" stroke="#111" stroke-width="0.3" >1:1</text>
<text x="176.4" y="484.5" font-size="15.0" text-anchor="middle" fill="#111" stroke="#111" stroke-width="0.3" >SK-HEP-1</text>
<text x="57.95" y="560.05" font-size="15.0" text-anchor="middle" fill="#111" stroke="#111" stroke-width="0.3" transform="rotate(-90 57.95 560.05)" >Specific lysis(%)</text>
<g stroke="#111" stroke-width="1" opacity="0.55"><line x1="129.8" y1="574.91" x2="129.8" y2="593.24"/><line x1="127.2" y1="574.91" x2="132.4" y2="574.91"/><line x1="127.2" y1="593.24" x2="132.4" y2="593.24"/></g>
<g stroke="#111" stroke-width="1" opacity="0.55"><line x1="183.2" y1="565.34" x2="183.2" y2="582.08"/><line x1="180.6" y1="565.34" x2="185.8" y2="565.34"/><line x1="180.6" y1="582.08" x2="185.8" y2="582.08"/></g>
<g stroke="#111" stroke-width="1" opacity="0.55"><line x1="236.4" y1="567.74" x2="236.4" y2="575.71"/><line x1="233.8" y1="567.74" x2="239" y2="567.74"/><line x1="233.8" y1="575.71" x2="239" y2="575.71"/></g>
<g stroke="#4250BA" stroke-width="1" opacity="0.55"><line x1="129.8" y1="554.98" x2="129.8" y2="578.89"/><line x1="127.2" y1="554.98" x2="132.4" y2="554.98"/><line x1="127.2" y1="578.89" x2="132.4" y2="578.89"/></g>
<g stroke="#4250BA" stroke-width="1" opacity="0.55"><line x1="183.2" y1="564.55" x2="183.2" y2="572.52"/><line x1="180.6" y1="564.55" x2="185.8" y2="564.55"/><line x1="180.6" y1="572.52" x2="185.8" y2="572.52"/></g>
<g stroke="#4250BA" stroke-width="1" opacity="0.55"><line x1="236.4" y1="567.74" x2="236.4" y2="581.28"/><line x1="233.8" y1="567.74" x2="239" y2="567.74"/><line x1="233.8" y1="581.28" x2="239" y2="581.28"/></g>
<g stroke="#78DC32" stroke-width="1" opacity="0.55"><line x1="129.8" y1="567.74" x2="129.8" y2="581.28"/><line x1="127.2" y1="567.74" x2="132.4" y2="567.74"/><line x1="127.2" y1="581.28" x2="132.4" y2="581.28"/></g>
<g stroke="#78DC32" stroke-width="1" opacity="0.55"><line x1="183.2" y1="561.36" x2="183.2" y2="582.88"/><line x1="180.6" y1="561.36" x2="185.8" y2="561.36"/><line x1="180.6" y1="582.88" x2="185.8" y2="582.88"/></g>
<g stroke="#78DC32" stroke-width="1" opacity="0.55"><line x1="236.4" y1="567.74" x2="236.4" y2="578.89"/><line x1="233.8" y1="567.74" x2="239" y2="567.74"/><line x1="233.8" y1="578.89" x2="239" y2="578.89"/></g>
<g stroke="#E8393C" stroke-width="1" opacity="0.55"><line x1="129.8" y1="570.92" x2="129.8" y2="578.1"/><line x1="127.2" y1="570.92" x2="132.4" y2="570.92"/><line x1="127.2" y1="578.1" x2="132.4" y2="578.1"/></g>
<g stroke="#E8393C" stroke-width="1" opacity="0.55"><line x1="183.2" y1="567.74" x2="183.2" y2="574.91"/><line x1="180.6" y1="567.74" x2="185.8" y2="567.74"/><line x1="180.6" y1="574.91" x2="185.8" y2="574.91"/></g>
<g stroke="#E8393C" stroke-width="1" opacity="0.55"><line x1="236.4" y1="554.98" x2="236.4" y2="562.95"/><line x1="233.8" y1="554.98" x2="239" y2="554.98"/><line x1="233.8" y1="562.95" x2="239" y2="562.95"/></g>
<polyline points="129.8,576.5 183.2,572.52 236.4,573.31" stroke="#78DC32" stroke-width="1.25" fill="none" />
<polygon points="129.8,574.19 127.66,578.05 131.95,578.05" fill="#78DC32"/>
<polygon points="183.2,570.2 181.05,574.06 185.34,574.06" fill="#78DC32"/>
<polygon points="236.4,571 234.25,574.86 238.55,574.86" fill="#78DC32"/>
<polyline points="129.8,574.27 183.2,571.4 236.4,558.97" stroke="#E8393C" stroke-width="1.25" fill="none" />
<polygon points="129.8,576.59 127.66,572.73 131.95,572.73" fill="#E8393C"/>
<polygon points="183.2,573.72 181.05,569.86 185.34,569.86" fill="#E8393C"/>
<polygon points="236.4,561.29 234.25,557.42 238.55,557.42" fill="#E8393C"/>
<polyline points="129.8,570.76 183.2,568.53 236.4,571.4" stroke="#4250BA" stroke-width="1.25" fill="none" />
<rect x="127.85" y="568.81" width="3.9" height="3.9" fill="#4250BA"/>
<rect x="181.25" y="566.58" width="3.9" height="3.9" fill="#4250BA"/>
<rect x="234.45" y="569.45" width="3.9" height="3.9" fill="#4250BA"/>
<polyline points="129.8,584.23 183.2,573.39 236.4,571.4" stroke="#111" stroke-width="1.25" fill="none" />
<circle cx="129.8" cy="584.23" r="2.15" fill="#111"/>
<circle cx="183.2" cy="573.39" r="2.15" fill="#111"/>
<circle cx="236.4" cy="571.4" r="2.15" fill="#111"/>
<line x1="363" y1="496.1" x2="363" y2="618" stroke="#2a2a2a" stroke-width="1.3" />
<line x1="357.8" y1="496.6" x2="363" y2="496.6" stroke="#1a1a1a" stroke-width="1.5" />
<line x1="357.8" y1="536.7" x2="363" y2="536.7" stroke="#1a1a1a" stroke-width="1.5" />
<line x1="357.8" y1="576.8" x2="363" y2="576.8" stroke="#1a1a1a" stroke-width="1.5" />
<text x="357.4" y="500.97" font-size="15.0" text-anchor="end" fill="#111" stroke="#111" stroke-width="0.3" >100</text>
<text x="357.4" y="541.07" font-size="15.0" text-anchor="end" fill="#111" stroke="#111" stroke-width="0.3" >50</text>
<text x="357.4" y="581.17" font-size="15.0" text-anchor="end" fill="#111" stroke="#111" stroke-width="0.3" >0</text>
<text x="357.4" y="621.67" font-size="15.0" text-anchor="end" fill="#111" stroke="#111" stroke-width="0.3" >-50</text>
<line x1="357.8" y1="617.3" x2="544.2" y2="617.3" stroke="#1a1a1a" stroke-width="1.6" />
<line x1="363" y1="576.8" x2="541.2" y2="576.8" stroke="#222" stroke-width="1.1" stroke-dasharray="1.6 2.4"/>
<line x1="398.9" y1="617.3" x2="398.9" y2="621.1" stroke="#1a1a1a" stroke-width="1.3" />
<text x="398.1" y="633.7" font-size="15.0" text-anchor="middle" fill="#111" stroke="#111" stroke-width="0.3" >9:1</text>
<line x1="453.1" y1="617.3" x2="453.1" y2="621.1" stroke="#1a1a1a" stroke-width="1.3" />
<text x="452.3" y="633.7" font-size="15.0" text-anchor="middle" fill="#111" stroke="#111" stroke-width="0.3" >3:1</text>
<line x1="507.5" y1="617.3" x2="507.5" y2="621.1" stroke="#1a1a1a" stroke-width="1.3" />
<text x="506.7" y="633.7" font-size="15.0" text-anchor="middle" fill="#111" stroke="#111" stroke-width="0.3" >1:1</text>
<text x="449.5" y="485.9" font-size="15.0" text-anchor="middle" fill="#111" stroke="#111" stroke-width="0.3" >Huh-7</text>
<text x="325.7" y="562.55" font-size="15.0" text-anchor="middle" fill="#111" stroke="#111" stroke-width="0.3" transform="rotate(-90 325.7 562.55)" >Specific lysis(%)</text>
<g stroke="#111" stroke-width="1" opacity="0.55"><line x1="398.9" y1="569.58" x2="398.9" y2="601.66"/><line x1="396.3" y1="569.58" x2="401.5" y2="569.58"/><line x1="396.3" y1="601.66" x2="401.5" y2="601.66"/></g>
<g stroke="#111" stroke-width="1" opacity="0.55"><line x1="453.1" y1="569.58" x2="453.1" y2="601.66"/><line x1="450.5" y1="569.58" x2="455.7" y2="569.58"/><line x1="450.5" y1="601.66" x2="455.7" y2="601.66"/></g>
<g stroke="#111" stroke-width="1" opacity="0.55"><line x1="507.5" y1="581.61" x2="507.5" y2="584.02"/><line x1="504.9" y1="581.61" x2="510.1" y2="581.61"/><line x1="504.9" y1="584.02" x2="510.1" y2="584.02"/></g>
<g stroke="#4250BA" stroke-width="1" opacity="0.55"><line x1="398.9" y1="563.17" x2="398.9" y2="591.24"/><line x1="396.3" y1="563.17" x2="401.5" y2="563.17"/><line x1="396.3" y1="591.24" x2="401.5" y2="591.24"/></g>
<g stroke="#4250BA" stroke-width="1" opacity="0.55"><line x1="453.1" y1="570.38" x2="453.1" y2="592.84"/><line x1="450.5" y1="570.38" x2="455.7" y2="570.38"/><line x1="450.5" y1="592.84" x2="455.7" y2="592.84"/></g>
<g stroke="#4250BA" stroke-width="1" opacity="0.55"><line x1="507.5" y1="565.57" x2="507.5" y2="583.22"/><line x1="504.9" y1="565.57" x2="510.1" y2="565.57"/><line x1="504.9" y1="583.22" x2="510.1" y2="583.22"/></g>
<g stroke="#78DC32" stroke-width="1" opacity="0.55"><line x1="398.9" y1="511.04" x2="398.9" y2="518.25"/><line x1="396.3" y1="511.04" x2="401.5" y2="511.04"/><line x1="396.3" y1="518.25" x2="401.5" y2="518.25"/></g>
<g stroke="#78DC32" stroke-width="1" opacity="0.55"><line x1="453.1" y1="534.29" x2="453.1" y2="543.12"/><line x1="450.5" y1="534.29" x2="455.7" y2="534.29"/><line x1="450.5" y1="543.12" x2="455.7" y2="543.12"/></g>
<g stroke="#78DC32" stroke-width="1" opacity="0.55"><line x1="507.5" y1="537.5" x2="507.5" y2="573.59"/><line x1="504.9" y1="537.5" x2="510.1" y2="537.5"/><line x1="504.9" y1="573.59" x2="510.1" y2="573.59"/></g>
<g stroke="#E8393C" stroke-width="1" opacity="0.55"><line x1="398.9" y1="503.82" x2="398.9" y2="509.43"/><line x1="396.3" y1="503.82" x2="401.5" y2="503.82"/><line x1="396.3" y1="509.43" x2="401.5" y2="509.43"/></g>
<g stroke="#E8393C" stroke-width="1" opacity="0.55"><line x1="453.1" y1="527.88" x2="453.1" y2="536.7"/><line x1="450.5" y1="527.88" x2="455.7" y2="527.88"/><line x1="450.5" y1="536.7" x2="455.7" y2="536.7"/></g>
<g stroke="#E8393C" stroke-width="1" opacity="0.55"><line x1="507.5" y1="549.53" x2="507.5" y2="566.37"/><line x1="504.9" y1="549.53" x2="510.1" y2="549.53"/><line x1="504.9" y1="566.37" x2="510.1" y2="566.37"/></g>
<polyline points="398.9,514.73 453.1,539.11 507.5,555.15" stroke="#78DC32" stroke-width="1.25" fill="none" />
<polygon points="398.9,512.41 396.75,516.27 401.04,516.27" fill="#78DC32"/>
<polygon points="453.1,536.79 450.96,540.65 455.25,540.65" fill="#78DC32"/>
<polygon points="507.5,552.83 505.36,556.69 509.64,556.69" fill="#78DC32"/>
<polyline points="398.9,506.38 453.1,532.29 507.5,555.95" stroke="#E8393C" stroke-width="1.25" fill="none" />
<polygon points="398.9,508.7 396.75,504.84 401.04,504.84" fill="#E8393C"/>
<polygon points="453.1,534.61 450.96,530.74 455.25,530.74" fill="#E8393C"/>
<polygon points="507.5,558.26 505.36,554.4 509.64,554.4" fill="#E8393C"/>
<polyline points="398.9,577.2 453.1,582.41 507.5,574.39" stroke="#4250BA" stroke-width="1.25" fill="none" />
<rect x="396.95" y="575.25" width="3.9" height="3.9" fill="#4250BA"/>
<rect x="451.15" y="580.46" width="3.9" height="3.9" fill="#4250BA"/>
<rect x="505.55" y="572.44" width="3.9" height="3.9" fill="#4250BA"/>
<polyline points="398.9,585.62 453.1,585.62 507.5,582.73" stroke="#111" stroke-width="1.25" fill="none" />
<circle cx="398.9" cy="585.62" r="2.15" fill="#111"/>
<circle cx="453.1" cy="585.62" r="2.15" fill="#111"/>
<circle cx="507.5" cy="582.73" r="2.15" fill="#111"/>
<polygon points="398.3,491.9 398.95,493.56 400.73,493.66 399.35,494.79 399.8,496.51 398.3,495.55 396.8,496.51 397.25,494.79 395.87,493.66 397.65,493.56" fill="#1a1a1a" stroke="#1a1a1a" stroke-width="0.5" stroke-linejoin="round"/>
<line x1="95" y1="665.8" x2="95" y2="788.2" stroke="#2a2a2a" stroke-width="1.3" />
<line x1="89.8" y1="666.3" x2="95" y2="666.3" stroke="#1a1a1a" stroke-width="1.5" />
<line x1="89.8" y1="706.7" x2="95" y2="706.7" stroke="#1a1a1a" stroke-width="1.5" />
<line x1="89.8" y1="747.1" x2="95" y2="747.1" stroke="#1a1a1a" stroke-width="1.5" />
<text x="85.8" y="670.67" font-size="15.0" text-anchor="end" fill="#111" stroke="#111" stroke-width="0.3" >100</text>
<text x="85.8" y="711.07" font-size="15.0" text-anchor="end" fill="#111" stroke="#111" stroke-width="0.3" >50</text>
<text x="85.8" y="751.47" font-size="15.0" text-anchor="end" fill="#111" stroke="#111" stroke-width="0.3" >0</text>
<text x="85.8" y="791.87" font-size="15.0" text-anchor="end" fill="#111" stroke="#111" stroke-width="0.3" >-50</text>
<line x1="89.8" y1="787.5" x2="276" y2="787.5" stroke="#1a1a1a" stroke-width="1.6" />
<line x1="95" y1="747.1" x2="273" y2="747.1" stroke="#222" stroke-width="1.1" stroke-dasharray="1.6 2.4"/>
<line x1="131" y1="787.5" x2="131" y2="791.3" stroke="#1a1a1a" stroke-width="1.3" />
<text x="130.2" y="803.9" font-size="15.0" text-anchor="middle" fill="#111" stroke="#111" stroke-width="0.3" >3:1</text>
<line x1="185.4" y1="787.5" x2="185.4" y2="791.3" stroke="#1a1a1a" stroke-width="1.3" />
<text x="184.6" y="803.9" font-size="15.0" text-anchor="middle" fill="#111" stroke="#111" stroke-width="0.3" >1:1</text>
<line x1="239.6" y1="787.5" x2="239.6" y2="791.3" stroke="#1a1a1a" stroke-width="1.3" />
<text x="238.8" y="803.9" font-size="15.0" text-anchor="middle" fill="#111" stroke="#111" stroke-width="0.3" >1:3</text>
<text x="182.2" y="655.9" font-size="15.0" text-anchor="middle" fill="#111" stroke="#111" stroke-width="0.3" >HepG2</text>
<text x="60.4" y="730.2" font-size="15.0" text-anchor="middle" fill="#111" stroke="#111" stroke-width="0.3" transform="rotate(-90 60.4 730.2)" >Specific lysis(%)</text>
<g stroke="#111" stroke-width="1" opacity="0.55"><line x1="131" y1="739.83" x2="131" y2="777"/><line x1="128.4" y1="739.83" x2="133.6" y2="739.83"/><line x1="128.4" y1="777" x2="133.6" y2="777"/></g>
<g stroke="#111" stroke-width="1" opacity="0.55"><line x1="185.4" y1="734.17" x2="185.4" y2="755.99"/><line x1="182.8" y1="734.17" x2="188" y2="734.17"/><line x1="182.8" y1="755.99" x2="188" y2="755.99"/></g>
<g stroke="#111" stroke-width="1" opacity="0.55"><line x1="239.6" y1="738.21" x2="239.6" y2="760.84"/><line x1="237" y1="738.21" x2="242.2" y2="738.21"/><line x1="237" y1="760.84" x2="242.2" y2="760.84"/></g>
<g stroke="#4250BA" stroke-width="1" opacity="0.55"><line x1="131" y1="739.83" x2="131" y2="764.07"/><line x1="128.4" y1="739.83" x2="133.6" y2="739.83"/><line x1="128.4" y1="764.07" x2="133.6" y2="764.07"/></g>
<g stroke="#4250BA" stroke-width="1" opacity="0.55"><line x1="185.4" y1="737.4" x2="185.4" y2="760.03"/><line x1="182.8" y1="737.4" x2="188" y2="737.4"/><line x1="182.8" y1="760.03" x2="188" y2="760.03"/></g>
<g stroke="#4250BA" stroke-width="1" opacity="0.55"><line x1="239.6" y1="738.21" x2="239.6" y2="751.14"/><line x1="237" y1="738.21" x2="242.2" y2="738.21"/><line x1="237" y1="751.14" x2="242.2" y2="751.14"/></g>
<g stroke="#78DC32" stroke-width="1" opacity="0.55"><line x1="131" y1="692.16" x2="131" y2="697"/><line x1="128.4" y1="692.16" x2="133.6" y2="692.16"/><line x1="128.4" y1="697" x2="133.6" y2="697"/></g>
<g stroke="#78DC32" stroke-width="1" opacity="0.55"><line x1="185.4" y1="708.32" x2="185.4" y2="747.1"/><line x1="182.8" y1="708.32" x2="188" y2="708.32"/><line x1="182.8" y1="747.1" x2="188" y2="747.1"/></g>
<g stroke="#78DC32" stroke-width="1" opacity="0.55"><line x1="239.6" y1="750.33" x2="239.6" y2="758.41"/><line x1="237" y1="750.33" x2="242.2" y2="750.33"/><line x1="237" y1="758.41" x2="242.2" y2="758.41"/></g>
<g stroke="#E8393C" stroke-width="1" opacity="0.55"><line x1="131" y1="676.8" x2="131" y2="686.5"/><line x1="128.4" y1="676.8" x2="133.6" y2="676.8"/><line x1="128.4" y1="686.5" x2="133.6" y2="686.5"/></g>
<g stroke="#E8393C" stroke-width="1" opacity="0.55"><line x1="185.4" y1="717.2" x2="185.4" y2="734.98"/><line x1="182.8" y1="717.2" x2="188" y2="717.2"/><line x1="182.8" y1="734.98" x2="188" y2="734.98"/></g>
<g stroke="#E8393C" stroke-width="1" opacity="0.55"><line x1="239.6" y1="740.64" x2="239.6" y2="756.8"/><line x1="237" y1="740.64" x2="242.2" y2="740.64"/><line x1="237" y1="756.8" x2="242.2" y2="756.8"/></g>
<polyline points="131,694.82 185.4,733.36 239.6,754.37" stroke="#78DC32" stroke-width="1.25" fill="none" />
<polygon points="131,692.51 128.85,696.37 133.15,696.37" fill="#78DC32"/>
<polygon points="185.4,731.05 183.25,734.91 187.55,734.91" fill="#78DC32"/>
<polygon points="239.6,752.06 237.45,755.92 241.75,755.92" fill="#78DC32"/>
<polyline points="131,681.01 185.4,725.28 239.6,748.72" stroke="#E8393C" stroke-width="1.25" fill="none" />
<polygon points="131,683.32 128.85,679.46 133.15,679.46" fill="#E8393C"/>
<polygon points="185.4,727.6 183.25,723.74 187.55,723.74" fill="#E8393C"/>
<polygon points="239.6,751.03 237.45,747.17 241.75,747.17" fill="#E8393C"/>
<polyline points="131,752.76 185.4,748.31 239.6,744.19" stroke="#4250BA" stroke-width="1.25" fill="none" />
<rect x="129.05" y="750.81" width="3.9" height="3.9" fill="#4250BA"/>
<rect x="183.45" y="746.36" width="3.9" height="3.9" fill="#4250BA"/>
<rect x="237.65" y="742.24" width="3.9" height="3.9" fill="#4250BA"/>
<polyline points="131,758.41 185.4,745.48 239.6,749.28" stroke="#111" stroke-width="1.25" fill="none" />
<circle cx="131" cy="758.41" r="2.15" fill="#111"/>
<circle cx="185.4" cy="745.48" r="2.15" fill="#111"/>
<circle cx="239.6" cy="749.28" r="2.15" fill="#111"/>
<polygon points="130.9,664.5 131.55,666.16 133.33,666.26 131.95,667.39 132.4,669.11 130.9,668.15 129.4,669.11 129.85,667.39 128.47,666.26 130.25,666.16" fill="#1a1a1a" stroke="#1a1a1a" stroke-width="0.5" stroke-linejoin="round"/>
<line x1="363" y1="665.8" x2="363" y2="787.7" stroke="#2a2a2a" stroke-width="1.3" />
<line x1="357.8" y1="666.3" x2="363" y2="666.3" stroke="#1a1a1a" stroke-width="1.5" />
<line x1="357.8" y1="706.55" x2="363" y2="706.55" stroke="#1a1a1a" stroke-width="1.5" />
<line x1="357.8" y1="746.8" x2="363" y2="746.8" stroke="#1a1a1a" stroke-width="1.5" />
<text x="353.8" y="670.67" font-size="15.0" text-anchor="end" fill="#111" stroke="#111" stroke-width="0.3" >100</text>
<text x="353.8" y="710.92" font-size="15.0" text-anchor="end" fill="#111" stroke="#111" stroke-width="0.3" >50</text>
<text x="353.8" y="751.17" font-size="15.0" text-anchor="end" fill="#111" stroke="#111" stroke-width="0.3" >0</text>
<text x="353.8" y="791.37" font-size="15.0" text-anchor="end" fill="#111" stroke="#111" stroke-width="0.3" >-50</text>
<line x1="357.8" y1="787" x2="544.2" y2="787" stroke="#1a1a1a" stroke-width="1.6" />
<line x1="363" y1="746.8" x2="541.2" y2="746.8" stroke="#222" stroke-width="1.1" stroke-dasharray="1.6 2.4"/>
<line x1="399.6" y1="787" x2="399.6" y2="790.8" stroke="#1a1a1a" stroke-width="1.3" />
<text x="398.8" y="803.4" font-size="15.0" text-anchor="middle" fill="#111" stroke="#111" stroke-width="0.3" >9:1</text>
<line x1="453.6" y1="787" x2="453.6" y2="790.8" stroke="#1a1a1a" stroke-width="1.3" />
<text x="452.8" y="803.4" font-size="15.0" text-anchor="middle" fill="#111" stroke="#111" stroke-width="0.3" >3:1</text>
<line x1="507.7" y1="787" x2="507.7" y2="790.8" stroke="#1a1a1a" stroke-width="1.3" />
<text x="506.9" y="803.4" font-size="15.0" text-anchor="middle" fill="#111" stroke="#111" stroke-width="0.3" >1:1</text>
<text x="449.3" y="655.2" font-size="15.0" text-anchor="middle" fill="#111" stroke="#111" stroke-width="0.3" >Hep3B</text>
<text x="328.6" y="730.05" font-size="15.0" text-anchor="middle" fill="#111" stroke="#111" stroke-width="0.3" transform="rotate(-90 328.6 730.05)" >Specific lysis(%)</text>
<g stroke="#111" stroke-width="1" opacity="0.55"><line x1="399.6" y1="724.26" x2="399.6" y2="741.97"/><line x1="397" y1="724.26" x2="402.2" y2="724.26"/><line x1="397" y1="741.97" x2="402.2" y2="741.97"/></g>
<g stroke="#111" stroke-width="1" opacity="0.55"><line x1="453.6" y1="729.89" x2="453.6" y2="750.82"/><line x1="451" y1="729.89" x2="456.2" y2="729.89"/><line x1="451" y1="750.82" x2="456.2" y2="750.82"/></g>
<g stroke="#111" stroke-width="1" opacity="0.55"><line x1="507.7" y1="725.06" x2="507.7" y2="750.82"/><line x1="505.1" y1="725.06" x2="510.3" y2="725.06"/><line x1="505.1" y1="750.82" x2="510.3" y2="750.82"/></g>
<g stroke="#4250BA" stroke-width="1" opacity="0.55"><line x1="399.6" y1="733.12" x2="399.6" y2="753.24"/><line x1="397" y1="733.12" x2="402.2" y2="733.12"/><line x1="397" y1="753.24" x2="402.2" y2="753.24"/></g>
<g stroke="#4250BA" stroke-width="1" opacity="0.55"><line x1="453.6" y1="731.5" x2="453.6" y2="764.51"/><line x1="451" y1="731.5" x2="456.2" y2="731.5"/><line x1="451" y1="764.51" x2="456.2" y2="764.51"/></g>
<g stroke="#4250BA" stroke-width="1" opacity="0.55"><line x1="507.7" y1="730.7" x2="507.7" y2="752.43"/><line x1="505.1" y1="730.7" x2="510.3" y2="730.7"/><line x1="505.1" y1="752.43" x2="510.3" y2="752.43"/></g>
<g stroke="#78DC32" stroke-width="1" opacity="0.55"><line x1="399.6" y1="711.38" x2="399.6" y2="714.6"/><line x1="397" y1="711.38" x2="402.2" y2="711.38"/><line x1="397" y1="714.6" x2="402.2" y2="714.6"/></g>
<g stroke="#78DC32" stroke-width="1" opacity="0.55"><line x1="453.6" y1="730.7" x2="453.6" y2="741.16"/><line x1="451" y1="730.7" x2="456.2" y2="730.7"/><line x1="451" y1="741.16" x2="456.2" y2="741.16"/></g>
<g stroke="#78DC32" stroke-width="1" opacity="0.55"><line x1="507.7" y1="728.28" x2="507.7" y2="739.55"/><line x1="505.1" y1="728.28" x2="510.3" y2="728.28"/><line x1="505.1" y1="739.55" x2="510.3" y2="739.55"/></g>
<g stroke="#E8393C" stroke-width="1" opacity="0.55"><line x1="399.6" y1="705.75" x2="399.6" y2="707.35"/><line x1="397" y1="705.75" x2="402.2" y2="705.75"/><line x1="397" y1="707.35" x2="402.2" y2="707.35"/></g>
<g stroke="#E8393C" stroke-width="1" opacity="0.55"><line x1="453.6" y1="732.31" x2="453.6" y2="741.97"/><line x1="451" y1="732.31" x2="456.2" y2="732.31"/><line x1="451" y1="741.97" x2="456.2" y2="741.97"/></g>
<g stroke="#E8393C" stroke-width="1" opacity="0.55"><line x1="507.7" y1="730.7" x2="507.7" y2="740.36"/><line x1="505.1" y1="730.7" x2="510.3" y2="730.7"/><line x1="505.1" y1="740.36" x2="510.3" y2="740.36"/></g>
<polyline points="399.6,712.99 453.6,735.93 507.7,733.92" stroke="#78DC32" stroke-width="1.25" fill="none" />
<polygon points="399.6,710.67 397.46,714.53 401.75,714.53" fill="#78DC32"/>
<polygon points="453.6,733.62 451.46,737.48 455.75,737.48" fill="#78DC32"/>
<polygon points="507.7,731.6 505.56,735.46 509.84,735.46" fill="#78DC32"/>
<polyline points="399.6,706.55 453.6,737.54 507.7,735.53" stroke="#E8393C" stroke-width="1.25" fill="none" />
<polygon points="399.6,708.87 397.46,705.01 401.75,705.01" fill="#E8393C"/>
<polygon points="453.6,739.86 451.46,736 455.75,736" fill="#E8393C"/>
<polygon points="507.7,737.85 505.56,733.99 509.84,733.99" fill="#E8393C"/>
<polyline points="399.6,738.75 453.6,748.01 507.7,741.57" stroke="#4250BA" stroke-width="1.25" fill="none" />
<rect x="397.65" y="736.8" width="3.9" height="3.9" fill="#4250BA"/>
<rect x="451.65" y="746.06" width="3.9" height="3.9" fill="#4250BA"/>
<rect x="505.75" y="739.62" width="3.9" height="3.9" fill="#4250BA"/>
<polyline points="399.6,733.12 453.6,741.16 507.7,739.15" stroke="#111" stroke-width="1.25" fill="none" />
<circle cx="399.6" cy="733.12" r="2.15" fill="#111"/>
<circle cx="453.6" cy="741.16" r="2.15" fill="#111"/>
<circle cx="507.7" cy="739.15" r="2.15" fill="#111"/>
<polygon points="390.2,688.9 390.85,690.56 392.63,690.66 391.25,691.79 391.7,693.51 390.2,692.55 388.7,693.51 389.15,691.79 387.77,690.66 389.55,690.56" fill="#1a1a1a" stroke="#1a1a1a" stroke-width="0.5" stroke-linejoin="round"/>
<polygon points="396.1,688.9 396.75,690.56 398.53,690.66 397.15,691.79 397.6,693.51 396.1,692.55 394.6,693.51 395.05,691.79 393.67,690.66 395.45,690.56" fill="#1a1a1a" stroke="#1a1a1a" stroke-width="0.5" stroke-linejoin="round"/>
<polygon points="402,688.9 402.65,690.56 404.43,690.66 403.05,691.79 403.5,693.51 402,692.55 400.5,693.51 400.95,691.79 399.57,690.66 401.35,690.56" fill="#1a1a1a" stroke="#1a1a1a" stroke-width="0.5" stroke-linejoin="round"/>
</svg></body></html>
